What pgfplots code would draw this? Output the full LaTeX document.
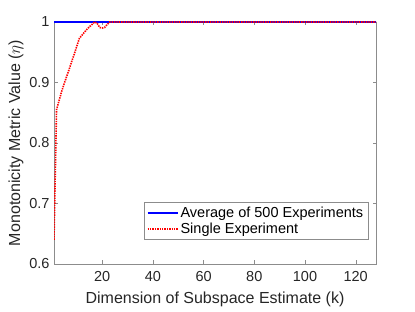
\documentclass[border=0pt]{standalone}
\usepackage{fontspec}
\setmainfont{Liberation Sans}
\usepackage{pgfplots}
\pgfplotsset{compat=1.18}
\begin{document}
\begin{tikzpicture}
\begin{axis}[
  scale only axis, width=322bp, height=242bp,
  xmin=1, xmax=128, ymin=0.6, ymax=1,
  xtick={20,40,60,80,100,120},
  ytick={0.6,0.7,0.8,0.9,1},
  yticklabels={0.6,0.7,0.8,0.9,1},
  tick align=inside,
  axis line style={draw=black!45},
  tick style={draw=black!45},
  major tick length=3.5bp,
  ticklabel style={font=\fontsize{14.5bp}{17bp}\selectfont, text=black!85},
  xticklabel style={yshift=-4bp},
  yticklabel style={xshift=-1bp},
  /pgf/number format/assume math mode=true,
  xlabel={Dimension of Subspace Estimate (k)},
  ylabel={Monotonicity Metric Value ($\eta$)},
  xlabel style={yshift=-3bp},
  ylabel style={yshift=-1bp},
  label style={font=\fontsize{16bp}{19bp}\selectfont, text=black!85},
  legend style={at={(0.975,0.10)}, anchor=south east, font=\fontsize{14.5bp}{17bp}\selectfont, draw=black!45, inner sep=2.5bp, row sep=0bp},
  legend cell align=left,
  legend image code/.code={\draw[#1] (0bp,0bp) -- (30bp,0bp);},
]
\addplot[blue, line width=2bp] coordinates {(1,1) (128,1)};
\addlegendentry{Average of 500 Experiments}
\addplot[red, line width=1.6bp, dash pattern=on 1.4bp off 1bp] coordinates {
(1,0.64) (2,0.855) (3,0.87) (4,0.885) (5,0.898) (6,0.91) (7,0.922) (8,0.935) (9,0.947) (10,0.96) (11,0.973) (12,0.978) (13,0.983) (14,0.988) (15,0.992) (16,0.996) (17,1.0) (18,0.998) (19,0.991) (20,0.99) (21,0.991) (22,0.996) (23,1.0) (128,1.0)};
\addlegendentry{Single Experiment}
\end{axis}
\pgfresetboundingbox
\path ([xshift=-54bp,yshift=-48bp]current axis.south west) rectangle ([xshift=39bp,yshift=22bp]current axis.north east);
\end{tikzpicture}
\end{document}
